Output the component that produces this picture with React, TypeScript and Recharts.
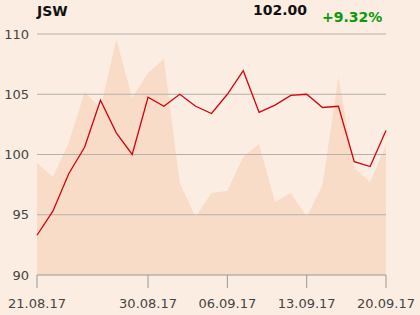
import {
  Area,
  ComposedChart,
  Line,
  ReferenceLine,
  XAxis,
  YAxis,
} from "recharts";

const DATES = [
  "21.08.17", "22.08.17", "23.08.17", "24.08.17", "25.08.17",
  "28.08.17", "29.08.17", "30.08.17", "31.08.17", "01.09.17",
  "04.09.17", "05.09.17", "06.09.17", "07.09.17", "08.09.17",
  "11.09.17", "12.09.17", "13.09.17", "14.09.17", "15.09.17",
  "18.09.17", "19.09.17", "20.09.17",
];

const PRICES = [
  93.3, 95.3, 98.4, 100.6, 104.5, 101.8, 100.0, 104.75, 104.0, 105.0,
  104.0, 103.4, 105.0, 106.95, 103.5, 104.1, 104.9, 105.0, 103.9, 104.0,
  99.4, 99.0, 102.0,
];

// volume in thousand shares (own hidden axis)
const VOLUMES = [
  112, 98, 132, 183, 167, 236, 177, 202, 216, 92,
  58, 82, 84, 118, 131, 73, 82, 58, 90, 198,
  107, 93, 130,
];

const X_TICKS = ["21.08.17", "30.08.17", "06.09.17", "13.09.17", "20.09.17"];
const Y_TICKS = [90, 95, 100, 105, 110];
const GRID_LINES = [95, 100, 105, 110];

const BG = "#FBEDE1";
const AREA = "#F8DCC7";
const RED = "#D7000F";
const GRID = "#B4B0AC";
const TEXT = "#444";
const FONT = "DejaVu Sans";

const data = DATES.map((d, i) => ({ date: d, price: PRICES[i], volume: VOLUMES[i] }));

export default function App() {
  return (
    <div style={{ position: "absolute", left: 0, top: 0, width: 420, height: 315, background: BG, fontFamily: FONT }}>
      <ComposedChart
        width={420}
        height={315}
        data={data}
        margin={{ top: 34, right: 34, left: 0, bottom: 0 }}
      >
        <XAxis
          dataKey="date"
          ticks={X_TICKS}
          interval={0}
          height={40}
          tickSize={13}
          tickMargin={11}
          stroke="#999"
          tick={{ fill: TEXT, fontSize: 13, fontFamily: FONT }}
        />
        <YAxis
          yAxisId="p"
          domain={[90, 110]}
          ticks={Y_TICKS}
          width={37}
          axisLine={false}
          tickLine={false}
          tick={{ fill: TEXT, fontSize: 13, fontFamily: FONT }}
        />
        <YAxis yAxisId="v" domain={[0, 241]} hide />
        <Area
          yAxisId="v"
          dataKey="volume"
          type="linear"
          stroke="none"
          fill={AREA}
          fillOpacity={1}
          isAnimationActive={false}
        />
        {GRID_LINES.map((v) => (
          <ReferenceLine key={v} yAxisId="p" y={v} stroke={GRID} strokeWidth={1} />
        ))}
        <Line
          yAxisId="p"
          dataKey="price"
          type="linear"
          stroke={RED}
          strokeWidth={1.3}
          dot={false}
          isAnimationActive={false}
        />
      </ComposedChart>
      <svg width={420} height={40} style={{ position: "absolute", left: 0, top: 0 }}>
        <text x={37} y={16} fontFamily={FONT} fontWeight="bold" fontSize={14} fill="#111">JSW</text>
        <text x={307} y={15} textAnchor="end" fontFamily={FONT} fontWeight="bold" fontSize={14} fill="#111">102.00</text>
        <text x={322} y={22} fontFamily={FONT} fontWeight="bold" fontSize={14} fill="#0A9A0A">+9.32%</text>
      </svg>
    </div>
  );
}
